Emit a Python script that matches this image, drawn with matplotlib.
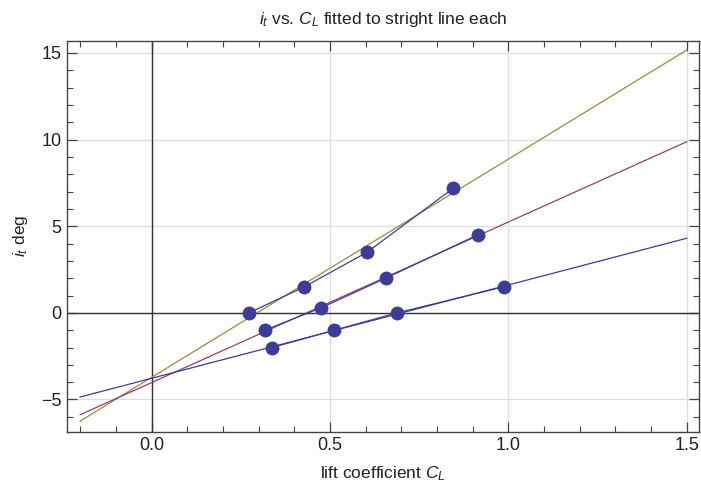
import numpy as np
import matplotlib.pyplot as plt
from matplotlib.ticker import MultipleLocator

plt.rcParams['font.family'] = ['Liberation Sans', 'DejaVu Sans']
plt.rcParams['mathtext.fontset'] = 'custom'
plt.rcParams['mathtext.it'] = 'Liberation Sans:italic'
plt.rcParams['mathtext.rm'] = 'Liberation Sans'

# measured points (lift coefficient, tail incidence in deg), one list per series
cl_a = [0.273, 0.428, 0.604, 0.846]
it_a = [0.0, 1.5, 3.5, 7.2]
cl_b = [0.317, 0.476, 0.656, 0.914]
it_b = [-1.0, 0.3, 2.0, 4.5]
cl_c = [0.338, 0.512, 0.688, 0.987]
it_c = [-2.0, -1.0, 0.0, 1.5]

fit_range = (-0.2, 1.5)
fit_colors = ['#9a8b3d', '#993d71', '#3d3d99']  # top, middle, bottom
point_color = '#3d3d99'

fig, ax = plt.subplots(figsize=(7.01, 4.84), dpi=100)
fig.subplots_adjust(left=0.0956, right=0.9975, top=0.916, bottom=0.108)

ax.grid(True, color='#dddddd', linewidth=0.9)
ax.set_axisbelow(True)
ax.axhline(0, color='#333333', linewidth=1.0, zorder=1)
ax.axvline(0, color='#333333', linewidth=1.0, zorder=1)

xs = np.array(fit_range)
for (cl, it), col in zip([(cl_a, it_a), (cl_b, it_b), (cl_c, it_c)], fit_colors):
    m, b = np.polyfit(cl, it, 1)
    ax.plot(xs, m * xs + b, color=col, linewidth=0.9, zorder=2)

for cl, it in [(cl_a, it_a), (cl_b, it_b), (cl_c, it_c)]:
    ax.plot(cl, it, color=point_color, linewidth=0.9, marker='o',
            markersize=10, markeredgewidth=0, zorder=3)

ax.set_xlim(-0.237, 1.535)
ax.set_ylim(-6.86, 15.71)
ax.xaxis.set_major_locator(MultipleLocator(0.5))
ax.xaxis.set_minor_locator(MultipleLocator(0.1))
ax.yaxis.set_major_locator(MultipleLocator(5))
ax.yaxis.set_minor_locator(MultipleLocator(1))
ax.xaxis.set_major_formatter(plt.FuncFormatter(lambda v, p: f'{v:.1f}'))
ax.yaxis.set_major_formatter(plt.FuncFormatter(lambda v, p: f'{v:.0f}'.replace('-', '\u2212')))
ax.tick_params(which='both', direction='in', top=True, right=True, color='#444444',
               labelsize=13, labelcolor='#222222')
ax.tick_params(which='major', length=7, width=0.9)
ax.tick_params(which='minor', length=4, width=0.8)
ax.tick_params(axis='x', pad=4)
ax.tick_params(axis='y', pad=4)
for s in ax.spines.values():
    s.set_color('#444444')
    s.set_linewidth(1.0)

ax.set_xlabel('lift coefficient $C_L$', fontsize=12.5, color='#222222', labelpad=7)
ax.set_ylabel('$i_t$ deg', fontsize=12.5, color='#222222', labelpad=8)
ax.set_title('$i_t$ vs. $C_L$ fitted to stright line each', fontsize=12.5, color='#222222', pad=12)

fig.savefig('out.png', dpi=100)
